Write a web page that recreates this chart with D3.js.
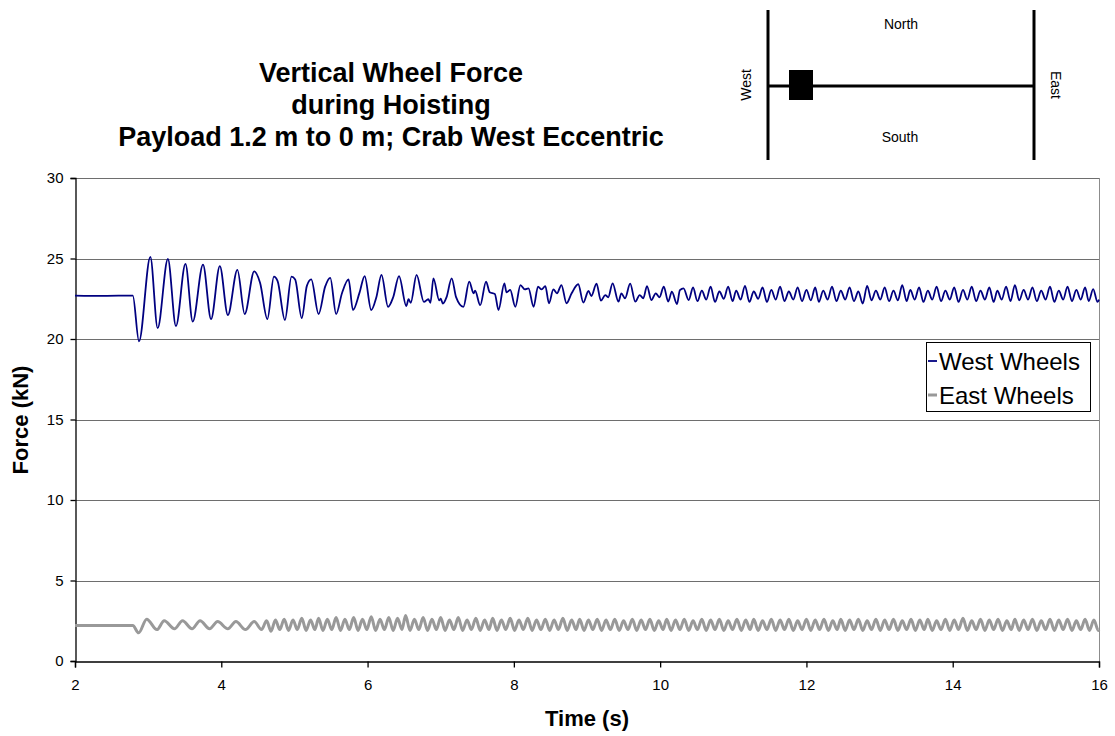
<!DOCTYPE html>
<html><head><meta charset="utf-8">
<script src="https://cdn.jsdelivr.net/npm/d3@7"></script>
<style>
html,body{margin:0;padding:0;background:#fff;}
svg{display:block;font-family:"Liberation Sans",Arial,sans-serif;}
</style></head><body>
<svg id="chart" width="1115" height="736"></svg>
<script>
const titleLines = ["Vertical Wheel Force", "during Hoisting", "Payload 1.2 m to 0 m; Crab West Eccentric"];
const xTicks = [2, 4, 6, 8, 10, 12, 14, 16];
const yTicks = [0, 5, 10, 15, 20, 25, 30];
const seriesNames = ["West Wheels", "East Wheels"];
const compass = {north: "North", south: "South", west: "West", east: "East"};

// [time (s), force (kN)]
const westWheels = [
  [2.00,22.70],[2.40,22.68],[2.79,22.70],[2.875,19.85],[3.03,25.10],[3.13,20.68],[3.27,24.97],
  [3.38,20.80],[3.51,24.66],[3.61,21.08],[3.75,24.62],[3.86,21.24],[3.98,24.53],[4.09,21.49],
  [4.22,24.29],[4.32,21.55],[4.45,24.20],[4.53,23.50],[4.63,21.24],[4.72,23.87],[4.77,23.60],
  [4.87,21.18],[4.96,23.87],[5.01,23.70],[5.10,21.30],[5.17,23.30],[5.23,23.70],[5.33,21.55],
  [5.42,23.25],[5.49,23.80],[5.57,21.55],[5.65,22.84],[5.74,23.70],[5.80,21.80],[5.89,22.88],
  [5.96,23.91],[6.05,21.80],[6.12,22.59],[6.19,23.98],[6.28,22.00],[6.35,22.59],[6.43,23.91],
  [6.53,22.05],[6.56,22.47],[6.59,22.25],[6.67,23.98],[6.77,22.30],[6.83,22.47],[6.86,22.25],
  [6.90,23.77],[6.98,22.40],[7.00,22.50],[7.03,22.20],[7.08,22.60],[7.15,23.77],[7.21,22.60],
  [7.31,22.00],[7.39,23.56],[7.45,22.84],[7.47,23.00],[7.54,22.10],[7.62,23.56],[7.67,22.90],
  [7.74,22.80],[7.79,21.80],[7.87,23.46],[7.90,22.90],[7.95,23.05],[8.02,22.00],[8.09,23.35],
  [8.15,23.08],[8.20,23.15],[8.27,22.00],[8.33,23.25],[8.38,23.08],[8.43,23.29],[8.48,22.22],
  [8.54,23.08],[8.59,22.84],[8.65,23.35],[8.72,22.22],[8.79,22.84],[8.88,23.40],[8.95,22.26],
  [9.02,22.98],[9.06,22.67],[9.13,23.44],[9.19,22.38],[9.25,22.73],[9.29,22.59],[9.35,23.46],
  [9.43,22.32],[9.47,22.84],[9.52,22.53],[9.59,23.44],[9.66,22.32],[9.72,22.73],[9.77,22.53],
  [9.82,23.29],[9.88,22.42],[9.94,22.84],[9.99,22.59],[10.05,23.25],[10.11,22.32],[10.16,22.94],
  [10.23,22.17],[10.27,23.04],[10.32,23.15],[10.39,22.42],
  [10.45,23.20],[10.51,22.35],[10.57,23.00],[10.63,22.45],[10.69,23.25],[10.75,22.30],[10.81,22.95],
  [10.87,22.50],[10.93,23.25],[10.99,22.35],[11.04,23.00],[11.10,22.45],[11.16,23.30],[11.22,22.30],
  [11.28,22.95],[11.34,22.50],[11.40,23.20],[11.46,22.30],[11.52,23.05],[11.58,22.45],[11.64,23.25],
  [11.70,22.35],[11.76,22.95],[11.82,22.45],[11.88,23.20],[11.94,22.35],[12.00,23.05],[12.06,22.40],
  [12.12,23.20],[12.17,22.30],[12.23,23.00],[12.29,22.45],[12.35,23.25],[12.41,22.35],[12.47,23.00],
  [12.53,22.45],[12.59,23.20],[12.65,22.35],[12.71,22.95],[12.77,22.20],[12.83,23.30],[12.89,22.40],
  [12.95,23.00],[13.01,22.45],[13.07,23.20],[13.13,22.35],[13.19,23.00],[13.25,22.40],[13.31,23.35],
  [13.37,22.35],[13.42,23.05],[13.48,22.45],[13.54,23.20],[13.60,22.30],[13.66,23.00],[13.72,22.45],
  [13.78,23.25],[13.84,22.35],[13.90,23.00],[13.96,22.45],[14.02,23.20],[14.08,22.30],[14.14,23.05],
  [14.20,22.45],[14.26,23.25],[14.32,22.35],[14.38,23.00],[14.44,22.45],[14.50,23.20],[14.56,22.30],
  [14.61,23.00],[14.67,22.45],[14.73,23.25],[14.79,22.35],[14.85,23.35],[14.91,22.40],[14.97,23.05],
  [15.03,22.45],[15.09,23.20],[15.15,22.35],[15.21,23.00],[15.27,22.45],[15.33,23.25],[15.39,22.30],
  [15.45,23.00],[15.51,22.45],[15.57,23.25],[15.63,22.35],[15.69,23.05],[15.75,22.45],[15.81,23.20],
  [15.86,22.35],[15.92,23.10],[15.98,22.30],[16.00,22.45]
];

const eastWheels = [
  [2.00,2.20],[2.40,2.20],[2.79,2.20],[2.87,1.75],[2.98,2.60],[3.12,1.95],[3.22,2.50],
  [3.36,2.00],[3.47,2.50],[3.60,2.00],[3.71,2.50],[3.84,2.00],[3.95,2.45],[4.09,2.00],
  [4.20,2.45],[4.33,1.95],[4.45,2.45],[4.55,1.95],[4.62,2.50],
  [4.68,1.85],[4.74,2.55],[4.80,1.95],[4.86,2.60],[4.92,1.90],[4.98,2.55],[5.04,1.95],
  [5.10,2.65],[5.16,1.90],[5.22,2.55],[5.28,1.95],[5.33,2.65],[5.39,1.90],[5.45,2.60],
  [5.51,1.95],[5.57,2.70],[5.63,1.90],[5.69,2.60],[5.75,1.95],[5.81,2.70],[5.87,1.90],
  [5.93,2.60],[5.99,1.95],[6.05,2.75],[6.11,1.90],[6.17,2.60],[6.23,1.95],[6.29,2.70],
  [6.35,1.90],[6.41,2.65],[6.47,1.95],[6.52,2.82],[6.58,1.90],[6.64,2.60],[6.70,1.95],
  [6.76,2.70],[6.82,1.90],[6.88,2.60],[6.94,1.95],[7.00,2.70],[7.06,1.90],[7.12,2.55],
  [7.18,1.95],[7.24,2.70],[7.30,1.90],[7.36,2.55],[7.42,1.95],[7.48,2.65],[7.54,1.90],
  [7.60,2.55],[7.66,1.95],[7.71,2.65],[7.77,1.90],[7.83,2.55],[7.89,1.95],[7.95,2.65],
  [8.01,1.90],[8.07,2.55],[8.13,1.95],[8.19,2.65],[8.25,1.90],[8.31,2.55],[8.37,1.95],
  [8.43,2.60],[8.49,1.90],[8.55,2.55],[8.61,1.95],[8.67,2.65],[8.73,1.90],[8.79,2.55],
  [8.85,1.95],[8.90,2.60],[8.96,1.90],[9.02,2.55],[9.08,1.95],[9.14,2.60],[9.20,1.90],
  [9.26,2.55],[9.32,1.95],[9.38,2.60],[9.44,1.90],[9.50,2.50],[9.56,1.95],[9.62,2.60],
  [9.68,1.90],[9.74,2.55],[9.80,1.95],[9.86,2.60],[9.92,1.90],[9.98,2.50],[10.04,1.95],
  [10.09,2.60],[10.15,1.90],[10.21,2.55],[10.27,1.95],[10.33,2.60],[10.39,1.90],[10.45,2.50],
  [10.51,1.95],[10.57,2.60],[10.63,1.90],[10.69,2.55],[10.75,1.95],[10.81,2.60],[10.87,1.90],
  [10.93,2.50],[10.99,1.95],[11.05,2.60],[11.11,1.90],[11.17,2.55],[11.23,1.95],[11.28,2.60],
  [11.34,1.90],[11.40,2.50],[11.46,1.95],[11.52,2.60],[11.58,1.90],[11.64,2.55],[11.70,1.95],
  [11.76,2.60],[11.82,1.90],[11.88,2.50],[11.94,1.95],[12.00,2.60],[12.06,1.90],[12.12,2.55],
  [12.18,1.95],[12.24,2.60],[12.30,1.90],[12.36,2.50],[12.42,1.95],[12.47,2.60],[12.53,1.90],
  [12.59,2.55],[12.65,1.95],[12.71,2.60],[12.77,1.90],[12.83,2.50],[12.89,1.95],[12.95,2.60],
  [13.01,1.90],[13.07,2.55],[13.13,1.95],[13.19,2.60],[13.25,1.90],[13.31,2.50],[13.37,1.95],
  [13.43,2.60],[13.49,1.90],[13.55,2.55],[13.61,1.95],[13.66,2.60],[13.72,1.90],[13.78,2.50],
  [13.84,1.95],[13.90,2.60],[13.96,1.90],[14.02,2.55],[14.08,1.95],[14.14,2.65],[14.20,1.90],
  [14.26,2.50],[14.32,1.95],[14.38,2.60],[14.44,1.90],[14.50,2.55],[14.56,1.95],[14.62,2.60],
  [14.68,1.90],[14.74,2.50],[14.80,1.95],[14.85,2.60],[14.91,1.90],[14.97,2.55],[15.03,1.95],
  [15.09,2.60],[15.15,1.90],[15.21,2.50],[15.27,1.95],[15.33,2.60],[15.39,1.90],[15.45,2.55],
  [15.51,1.95],[15.57,2.60],[15.63,1.90],[15.69,2.50],[15.75,1.95],[15.81,2.60],[15.87,1.90],
  [15.93,2.55],[15.99,1.90],[16.00,1.95]
];

const plot = {left: 75, right: 1099, top: 178, bottom: 661};

const svg = d3.select("#chart");
const x = d3.scaleLinear().domain([2, 16]).range([plot.left, plot.right]);
const y = d3.scaleLinear().domain([0, 30]).range([plot.bottom, plot.top]);

// horizontal gridlines
svg.append("g")
  .selectAll("line")
  .data(yTicks.filter(d => d > 0))
  .join("line")
  .attr("x1", plot.left).attr("x2", plot.right)
  .attr("y1", d => Math.round(y(d)) + 0.5).attr("y2", d => Math.round(y(d)) + 0.5)
  .attr("stroke", "#6e6e6e").attr("stroke-width", 1);

// right border of the plot area
svg.append("line")
  .attr("x1", plot.right + 0.5).attr("x2", plot.right + 0.5)
  .attr("y1", plot.top).attr("y2", plot.bottom)
  .attr("stroke", "#8c8c8c").attr("stroke-width", 1);

// axes
const xAxis = svg.append("g")
  .attr("transform", `translate(0,${Math.round(plot.bottom) + 0.5})`)
  .call(d3.axisBottom(x).tickValues(xTicks).tickSize(6).tickPadding(12).tickFormat(d3.format("d")));
const yAxis = svg.append("g")
  .attr("transform", `translate(${plot.left + 0.5},0)`)
  .call(d3.axisLeft(y).tickValues(yTicks).tickSize(5).tickPadding(7).tickFormat(d3.format("d")));
[xAxis, yAxis].forEach(g => {
  g.selectAll("path,line").attr("stroke", "#000").attr("stroke-width", 1.3);
  g.selectAll("text").attr("fill", "#000").style("font-size", "15px")
    .style("font-family", '"Liberation Sans", Arial, sans-serif');
});

// data lines
const line = d3.line().x(d => x(d[0])).y(d => y(d[1])).curve(d3.curveMonotoneX);
svg.append("path").datum(eastWheels)
  .attr("d", line).attr("fill", "none")
  .attr("stroke", "#999999").attr("stroke-width", 3).attr("stroke-linejoin", "round");
svg.append("path").datum(westWheels)
  .attr("d", line).attr("fill", "none")
  .attr("stroke", "#000080").attr("stroke-width", 1.8).attr("stroke-linejoin", "round");

// title
svg.append("text")
  .attr("x", 391).attr("y", 82)
  .attr("text-anchor", "middle").style("font-weight", "bold").style("font-size", "27px")
  .selectAll("tspan").data(titleLines).join("tspan")
  .attr("x", 391).attr("dy", (d, i) => i === 0 ? 0 : 32).text(d => d);

// axis titles
svg.append("text")
  .attr("x", 587).attr("y", 726).attr("text-anchor", "middle")
  .style("font-weight", "bold").style("font-size", "22px").text("Time (s)");
svg.append("text")
  .attr("transform", "translate(28,420) rotate(-90)").attr("text-anchor", "middle")
  .style("font-weight", "bold").style("font-size", "22px").text("Force (kN)");

// legend
const legend = svg.append("g");
legend.append("rect")
  .attr("x", 926.5).attr("y", 342.5).attr("width", 164).attr("height", 69)
  .attr("fill", "#fff").attr("stroke", "#000").attr("stroke-width", 1);
const legendColors = ["#000080", "#999999"];
const legendWidths = [1.8, 3];
seriesNames.forEach((name, i) => {
  const cy = 361 + i * 34;
  legend.append("line").attr("x1", 928).attr("x2", 937).attr("y1", cy).attr("y2", cy)
    .attr("stroke", legendColors[i]).attr("stroke-width", legendWidths[i]);
  legend.append("text").attr("x", 939).attr("y", cy + 8.5)
    .style("font-size", "24px").text(name);
});

// crab position sketch
const sketch = svg.append("g");
sketch.append("line").attr("x1", 768).attr("x2", 768).attr("y1", 10).attr("y2", 160)
  .attr("stroke", "#000").attr("stroke-width", 3);
sketch.append("line").attr("x1", 1034).attr("x2", 1034).attr("y1", 10).attr("y2", 160)
  .attr("stroke", "#000").attr("stroke-width", 3);
sketch.append("line").attr("x1", 768).attr("x2", 1034).attr("y1", 86).attr("y2", 86)
  .attr("stroke", "#000").attr("stroke-width", 3);
sketch.append("rect").attr("x", 789).attr("y", 70).attr("width", 24).attr("height", 30)
  .attr("fill", "#000");
sketch.append("text").attr("x", 901).attr("y", 29).attr("text-anchor", "middle")
  .style("font-size", "14px").text(compass.north);
sketch.append("text").attr("x", 900).attr("y", 142).attr("text-anchor", "middle")
  .style("font-size", "14px").text(compass.south);
sketch.append("text").attr("transform", "translate(751,85) rotate(-90)").attr("text-anchor", "middle")
  .style("font-size", "14px").text(compass.west);
sketch.append("text").attr("transform", "translate(1051,85) rotate(90)").attr("text-anchor", "middle")
  .style("font-size", "14px").text(compass.east);
</script>
</body></html>
